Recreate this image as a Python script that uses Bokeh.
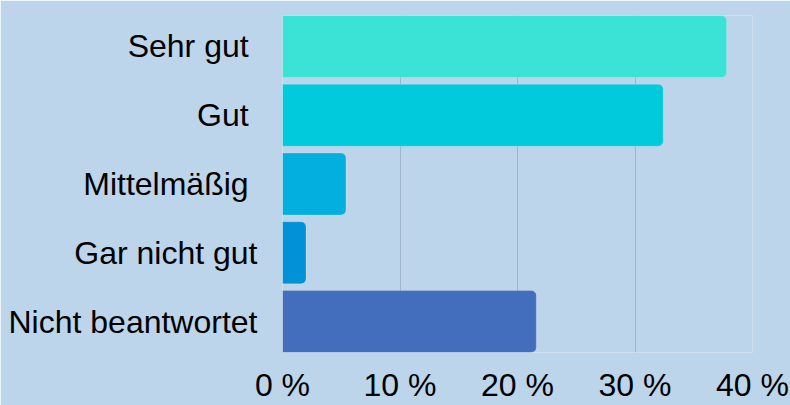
from bokeh.plotting import figure
from bokeh.models import Range1d, FixedTicker, PrintfTickFormatter, ColumnDataSource
from bokeh.embed import file_html
from bokeh.resources import INLINE

categories = ["Sehr gut ", "Gut ", "Mittelmäßig ", "Gar nicht gut", "Nicht beantwortet"]
values = [37.8, 32.4, 5.4, 2.0, 21.6]
colors = ["#3AE3D6", "#00CADC", "#02AFDE", "#0091D7", "#436EBE"]
x_ticks = [0, 10, 20, 30, 40]

BG = "#BDD5EA"
FONT = "Liberation Sans"

pos = list(range(len(categories)))
src = ColumnDataSource(dict(y=pos, right=values, color=colors))

p = figure(width=790, height=405, output_backend="svg", toolbar_location=None,
           x_range=Range1d(0, 40), y_range=Range1d(len(categories) - 0.55, -0.45),
           background_fill_color=BG, border_fill_color=BG,
           min_border_left=282, min_border_right=38, min_border_top=15, min_border_bottom=53)
p.outline_line_color = None

p.hbar(y="y", left=0, right="right", height=0.9, fill_color="color",
       line_color="#FFFFFF", line_alpha=0.2, line_width=1,
       border_radius=(0, 5, 5, 0), source=src)

p.xaxis.ticker = FixedTicker(ticks=x_ticks)
p.xaxis.formatter = PrintfTickFormatter(format="%d %%")
p.yaxis.ticker = FixedTicker(ticks=pos)
p.yaxis.major_label_overrides = {i: c for i, c in zip(pos, categories)}

for ax in (p.xaxis, p.yaxis):
    ax.axis_line_color = None
    ax.major_tick_line_color = None
    ax.minor_tick_line_color = None
    ax.major_tick_out = 0
    ax.major_tick_in = 0
    ax.major_label_text_font = FONT
    ax.major_label_text_font_size = "32px"
    ax.major_label_text_color = "#000000"
p.xaxis.major_label_standoff = 14
p.yaxis.major_label_standoff = 25

p.xgrid.grid_line_color = "#A0B4CC"
p.xgrid.grid_line_width = 1
p.ygrid.grid_line_color = None

open("out.html", "w").write(file_html(p, INLINE))
